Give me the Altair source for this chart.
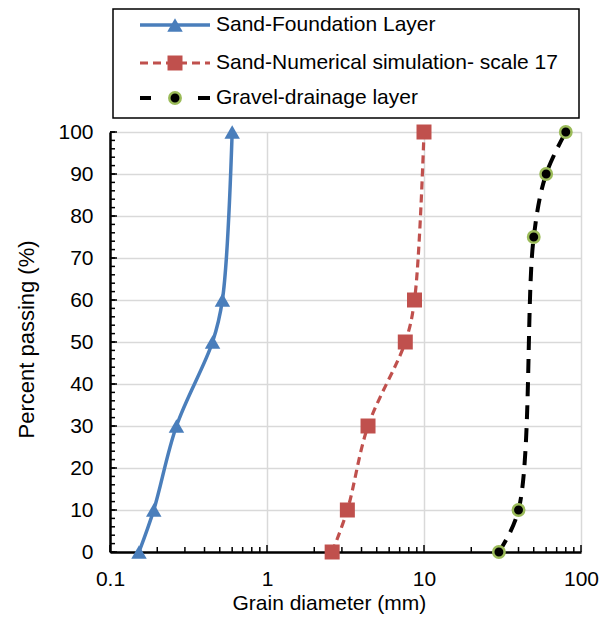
import altair as alt
import pandas as pd

# ---------------- data ----------------
series_names = ["Sand-Foundation Layer", "Sand-Numerical simulation- scale 17", "Gravel-drainage layer"]

sand_found_d = [0.153, 0.19, 0.265, 0.45, 0.52, 0.60]
sand_found_p = [0, 10, 30, 50, 60, 100]

sand_num_d = [2.6, 3.25, 4.4, 7.6, 8.7, 10]
sand_num_p = [0, 10, 30, 50, 60, 100]

gravel_d = [30, 40, 50, 60, 80]
gravel_p = [0, 10, 75, 90, 100]

x_major = [0.1, 1, 10, 100]
x_minor = [0.2, 0.3, 0.4, 0.5, 0.6, 0.7, 0.8, 0.9,
           2, 3, 4, 5, 6, 7, 8, 9,
           20, 30, 40, 50, 60, 70, 80, 90]
y_major = [0, 10, 20, 30, 40, 50, 60, 70, 80, 90, 100]
y_minor = list(range(0, 101, 2))

# ---------------- styling ----------------
FONT = "Liberation Sans"
W, H = 471, 420
blue, red, black, green = "#4a7ebb", "#c0504d", "#000000", "#9bbb59"

xs = alt.Scale(type="log", domain=[0.1, 100], nice=False)
ys = alt.Scale(domain=[0, 100], nice=False)

x_axis = alt.Axis(values=x_major, format="~g", grid=True, gridColor="#d9d9d9", gridWidth=1.5,
                  ticks=False, domainColor="black", domainWidth=2.5, labelFlush=False,
                  labelFont=FONT, labelFontSize=21, labelPadding=16, labelColor="black",
                  title="Grain diameter (mm)", titleFont=FONT, titleFontSize=21,
                  titleFontWeight="normal", titleColor="black",
                  titleX=122, titleY=57, titleAlign="left", titleBaseline="alphabetic")
y_axis = alt.Axis(values=y_major, grid=True, gridColor="#d9d9d9", gridWidth=1.5,
                  ticks=False, domainColor="black", domainWidth=2.5, labelFlush=False,
                  labelFont=FONT, labelFontSize=21, labelPadding=17, labelColor="black",
                  title="Percent passing (%)", titleFont=FONT, titleFontSize=22,
                  titleFontWeight="normal", titleColor="black",
                  titleX=-77, titleY=306, titleAlign="left", titleBaseline="alphabetic")

X = alt.X("d:Q", scale=xs, axis=x_axis)
Y = alt.Y("p:Q", scale=ys, axis=y_axis)

layers = []

# inward ticks
layers.append(alt.Chart(pd.DataFrame({"p": y_minor})).mark_rule(color="black", strokeWidth=1.5)
              .encode(y=Y, x=alt.value(0), x2=alt.value(5)))
layers.append(alt.Chart(pd.DataFrame({"p": y_major})).mark_rule(color="black", strokeWidth=1.5)
              .encode(y=Y, x=alt.value(0), x2=alt.value(7)))
layers.append(alt.Chart(pd.DataFrame({"d": x_minor})).mark_rule(color="black", strokeWidth=1.5)
              .encode(x=X, y=alt.value(H), y2=alt.value(H - 5)))
layers.append(alt.Chart(pd.DataFrame({"d": x_major})).mark_rule(color="black", strokeWidth=1.5)
              .encode(x=X, y=alt.value(H), y2=alt.value(H - 7)))

series = [
    (sand_found_d, sand_found_p, dict(color=blue, strokeWidth=3.5),
     dict(shape="triangle-up", size=240, color=blue, filled=True, opacity=1)),
    (sand_num_d, sand_num_p, dict(color=red, strokeWidth=3.2, strokeDash=[8, 5]),
     dict(shape="square", size=225, color=red, filled=True, opacity=1)),
    (gravel_d, gravel_p, dict(color=black, strokeWidth=4, strokeDash=[14, 9]),
     dict(shape="circle", size=130, fill=black, stroke=green, strokeWidth=2.5, filled=True, opacity=1)),
]

for d, p, lstyle, pstyle in series:
    df = pd.DataFrame({"d": d, "p": p})
    layers.append(alt.Chart(df).mark_line(interpolate="catmull-rom", **lstyle)
                  .encode(x=X, y=Y, order="p:Q"))
for d, p, lstyle, pstyle in series:
    df = pd.DataFrame({"d": d, "p": p})
    layers.append(alt.Chart(df).mark_point(**pstyle).encode(x=X, y=Y))

# ---------------- legend (box at top) ----------------
one = pd.DataFrame({"k": [0]})
layers.append(alt.Chart(one).mark_rect(fill="white", fillOpacity=0, stroke="black", strokeWidth=1.5)
              .encode(x=alt.value(3), x2=alt.value(469), y=alt.value(-123), y2=alt.value(-14)))

row_y = [-107, -69, -34]
for i, (name, (d, p, lstyle, pstyle)) in enumerate(zip(series_names, series)):
    ldf = pd.DataFrame({"name": [name]})
    yv = row_y[i]
    if i == 2:
        for a, b in [(30, 41), (88, 100)]:
            layers.append(alt.Chart(ldf).mark_rule(color=black, strokeWidth=4)
                          .encode(x=alt.value(a), x2=alt.value(b), y=alt.value(yv)))
    else:
        layers.append(alt.Chart(ldf).mark_rule(**lstyle)
                      .encode(x=alt.value(30), x2=alt.value(100), y=alt.value(yv)))
    layers.append(alt.Chart(ldf).mark_point(**pstyle)
                  .encode(x=alt.value(65), y=alt.value(yv)))
    layers.append(alt.Chart(ldf).mark_text(align="left", baseline="middle", font=FONT,
                                           fontSize=21, color="black")
                  .encode(x=alt.value(106), y=alt.value(yv), text="name:N"))

chart = (alt.layer(*layers)
         .properties(width=W, height=H, autosize=alt.AutoSizeParams(type="none"),
                     padding={"left": 102, "top": 124, "right": 21, "bottom": 62})
         .configure_view(stroke="black", strokeWidth=1)
         .configure(background="white"))

chart.save("out.html", embed_options={"renderer": "svg", "actions": False})
